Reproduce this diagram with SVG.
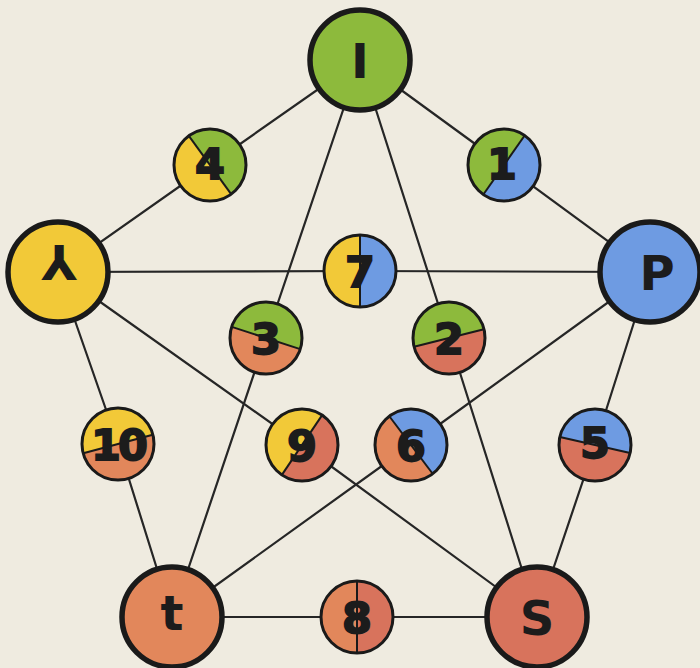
<svg xmlns="http://www.w3.org/2000/svg" width="700" height="668" viewBox="0 0 700 668">
<style>
.bg{fill:#EFEBE0}
.edge{fill:none;stroke:#262626;stroke-width:2.2}
.big{stroke:#1a1a1a;stroke-width:5.5}
.small{fill:none;stroke:#1a1a1a;stroke-width:3}
.div{stroke:#1a1a1a;stroke-width:2}
.g{fill:#8DBA3C}.y{fill:#F2C938}.b{fill:#6E9BE2}.o{fill:#E2875B}.r{fill:#D8735C}
.L{font-family:"DejaVu Sans","Liberation Sans",sans-serif;font-weight:bold;font-size:48px;fill:#1c1c1c;text-anchor:middle}
.N{font-family:"DejaVu Sans","Liberation Sans",sans-serif;font-weight:bold;font-size:43px;fill:#1c1c1c;text-anchor:middle;stroke:#1c1c1c;stroke-width:1.8}
</style>
<defs>
<path id="half" d="M0,-36 A36,36 0 0 1 0,36 Z"/>
</defs>
<rect class="bg" x="0" y="0" width="700" height="668"/>
<g id="connectors">
<polyline class="edge" points="360,60 210,165 58,272"/>
<polyline class="edge" points="360,60 504,165 650,272"/>
<polyline class="edge" points="58,272 360,271 650,272"/>
<polyline class="edge" points="360,60 266,338 172,617"/>
<polyline class="edge" points="360,60 449,338 537,617"/>
<polyline class="edge" points="58,272 118,444 172,617"/>
<polyline class="edge" points="58,272 302,445 537,617"/>
<polyline class="edge" points="650,272 411,445 172,617"/>
<polyline class="edge" points="650,272 595,445 537,617"/>
<polyline class="edge" points="172,617 357,617 537,617"/>
</g>
<g id="node-I"><circle class="big g" cx="360" cy="60" r="50"/><text class="L" x="360" y="78">I</text></g>
<g id="node-lambda"><circle class="big y" cx="58" cy="272" r="50"/><text class="L" transform="translate(59,268) rotate(180)" x="0" y="23" font-size="63">Y</text></g>
<g id="node-P"><circle class="big b" cx="650" cy="272" r="50"/><text class="L" x="657" y="290">P</text></g>
<g id="node-t"><circle class="big o" cx="172" cy="617" r="50"/><text class="L" x="172" y="630">t</text></g>
<g id="node-S"><circle class="big r" cx="537" cy="617" r="50"/><text class="L" x="537" y="635">S</text></g>

<g id="node-4" transform="translate(210,165)"><circle class="y" r="36"/><use href="#half" class="g" transform="rotate(-36)"/><line class="div" x1="0" y1="-36" x2="0" y2="36" transform="rotate(-36)"/><circle class="small" r="36"/><text class="N" x="0" y="14">4</text></g>
<g id="node-1" transform="translate(504,165)"><circle class="b" r="36"/><use href="#half" class="g" transform="rotate(215)"/><line class="div" x1="0" y1="-36" x2="0" y2="36" transform="rotate(215)"/><circle class="small" r="36"/><text class="N" x="-2" y="14">1</text></g>
<g id="node-7" transform="translate(360,271)"><circle class="b" r="36"/><use href="#half" class="y" transform="rotate(180)"/><line class="div" x1="0" y1="-36" x2="0" y2="36"/><circle class="small" r="36"/><text class="N" x="0" y="16">7</text></g>
<g id="node-3" transform="translate(266,338)"><circle class="o" r="36"/><use href="#half" class="g" transform="rotate(-72)"/><line class="div" x1="0" y1="-36" x2="0" y2="36" transform="rotate(-72)"/><circle class="small" r="36"/><text class="N" x="0" y="16">3</text></g>
<g id="node-2" transform="translate(449,338)"><circle class="r" r="36"/><use href="#half" class="g" transform="rotate(-104)"/><line class="div" x1="0" y1="-36" x2="0" y2="36" transform="rotate(-104)"/><circle class="small" r="36"/><text class="N" x="0" y="16">2</text></g>
<g id="node-10" transform="translate(118,444)"><circle class="o" r="36"/><use href="#half" class="y" transform="rotate(-105)"/><line class="div" x1="0" y1="-36" x2="0" y2="36" transform="rotate(-105)"/><circle class="small" r="36"/><text class="N" x="0" y="16" letter-spacing="-3">10</text></g>
<g id="node-9" transform="translate(302,445)"><circle class="r" r="36"/><use href="#half" class="y" transform="rotate(214)"/><line class="div" x1="0" y1="-36" x2="0" y2="36" transform="rotate(214)"/><circle class="small" r="36"/><text class="N" x="0" y="16">9</text></g>
<g id="node-6" transform="translate(411,445)"><circle class="o" r="36"/><use href="#half" class="b" transform="rotate(-37)"/><line class="div" x1="0" y1="-36" x2="0" y2="36" transform="rotate(-37)"/><circle class="small" r="36"/><text class="N" x="0" y="16">6</text></g>
<g id="node-5" transform="translate(595,445)"><circle class="r" r="36"/><use href="#half" class="b" transform="rotate(-77)"/><line class="div" x1="0" y1="-36" x2="0" y2="36" transform="rotate(-77)"/><circle class="small" r="36"/><text class="N" x="0" y="13">5</text></g>
<g id="node-8" transform="translate(357,617)"><circle class="r" r="36"/><use href="#half" class="o" transform="rotate(180)"/><line class="div" x1="0" y1="-36" x2="0" y2="36"/><circle class="small" r="36"/><text class="N" x="0" y="16">8</text></g>
</svg>
